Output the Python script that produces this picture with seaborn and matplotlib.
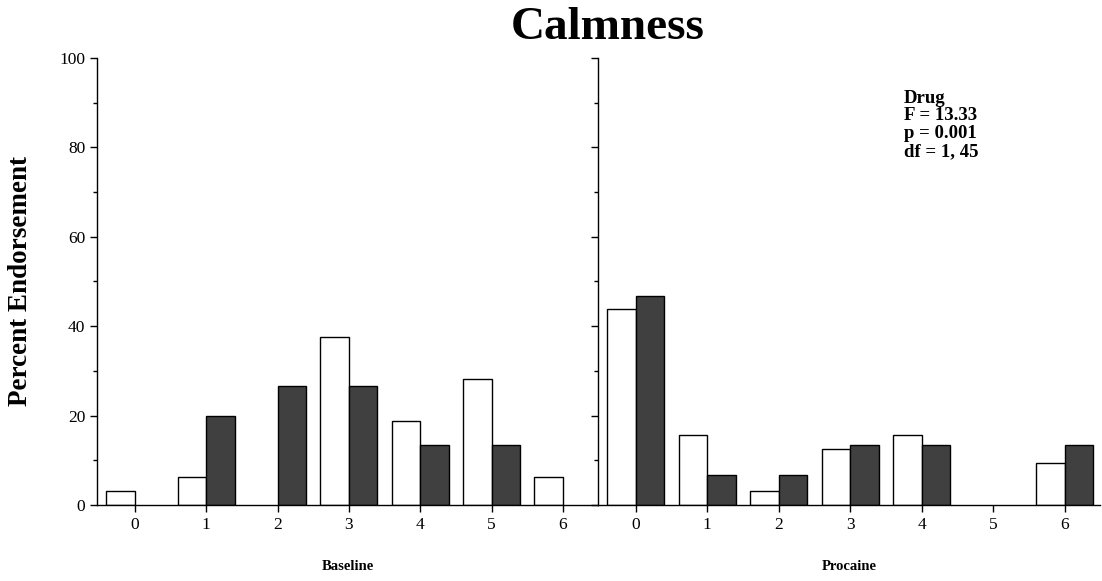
import matplotlib
matplotlib.use("Agg")
import matplotlib.pyplot as plt
import seaborn as sns
import pandas as pd
from matplotlib.ticker import MultipleLocator

categories = ["0", "1", "2", "3", "4", "5", "6"]
groups = ["Group 1", "Group 2"]
baseline_g1 = [3.125, 6.25, 0, 37.5, 18.75, 28.125, 6.25]
baseline_g2 = [0, 20.0, 26.67, 26.67, 13.33, 13.33, 0]
procaine_g1 = [43.75, 15.625, 3.125, 12.5, 15.625, 0, 9.375]
procaine_g2 = [46.67, 6.67, 6.67, 13.33, 13.33, 0, 13.33]
panel_titles = ["Baseline", "Procaine"]
y_ticks = [0, 20, 40, 60, 80, 100]
annotation = "Drug\nF = 13.33\np = 0.001\ndf = 1, 45"

def make_df(g1, g2):
    rows = []
    for c, v in zip(categories, g1):
        rows.append({"score": c, "group": groups[0], "pct": v})
    for c, v in zip(categories, g2):
        rows.append({"score": c, "group": groups[1], "pct": v})
    return pd.DataFrame(rows)

sns.set_style("ticks")
plt.rcParams["font.family"] = ["Liberation Serif", "DejaVu Serif"]
plt.rcParams["text.color"] = "black"
plt.rcParams["axes.labelcolor"] = "black"
plt.rcParams["xtick.color"] = "black"
plt.rcParams["ytick.color"] = "black"

fig = plt.figure(figsize=(11.02, 5.81), dpi=100)
ax1 = fig.add_axes([0.088, 0.131, 0.4546, 0.769])
ax2 = fig.add_axes([0.5426, 0.131, 0.4554, 0.769])

palette = {groups[0]: "white", groups[1]: "#404040"}
for ax, (g1, g2), label in zip([ax1, ax2], [(baseline_g1, baseline_g2), (procaine_g1, procaine_g2)], panel_titles):
    df = make_df(g1, g2)
    sns.barplot(data=df, x="score", y="pct", hue="group", order=categories,
                hue_order=groups, palette=palette, edgecolor="black",
                linewidth=1.0, width=0.8, ax=ax, legend=False, saturation=1)
    for p in ax.patches:
        if p.get_height() == 0:
            p.set_visible(False)
    ax.set_xlim(-0.53, 6.49)
    ax.set_ylim(0, 100)
    ax.set_yticks(y_ticks)
    ax.yaxis.set_minor_locator(MultipleLocator(10))
    ax.spines["top"].set_visible(False)
    ax.spines["right"].set_visible(False)
    ax.tick_params(axis="both", which="major", direction="out", length=5, width=1,
                   labelsize=12.5, colors="black")
    ax.tick_params(axis="y", which="minor", direction="out", length=3, width=1)
    ax.set_xlabel(label, fontsize=10.5, fontweight="bold", labelpad=20)
    ax.set_ylabel("")
    for s in ["left", "bottom"]:
        ax.spines[s].set_linewidth(1)
        ax.spines[s].set_color("black")

ax1.set_ylabel("Percent Endorsement", fontsize=19.5, fontweight="bold", labelpad=19)
ax2.tick_params(axis="y", which="both", labelleft=False)

fig.text(0.551, 0.952, "Calmness", ha="center", va="center", fontsize=34, fontweight="bold")
ax2.text(0.61, 0.929, annotation, transform=ax2.transAxes, ha="left", va="top",
         fontsize=13.5, fontweight="bold", linespacing=1.05)

fig.savefig("out.png", dpi=100, facecolor="white")
